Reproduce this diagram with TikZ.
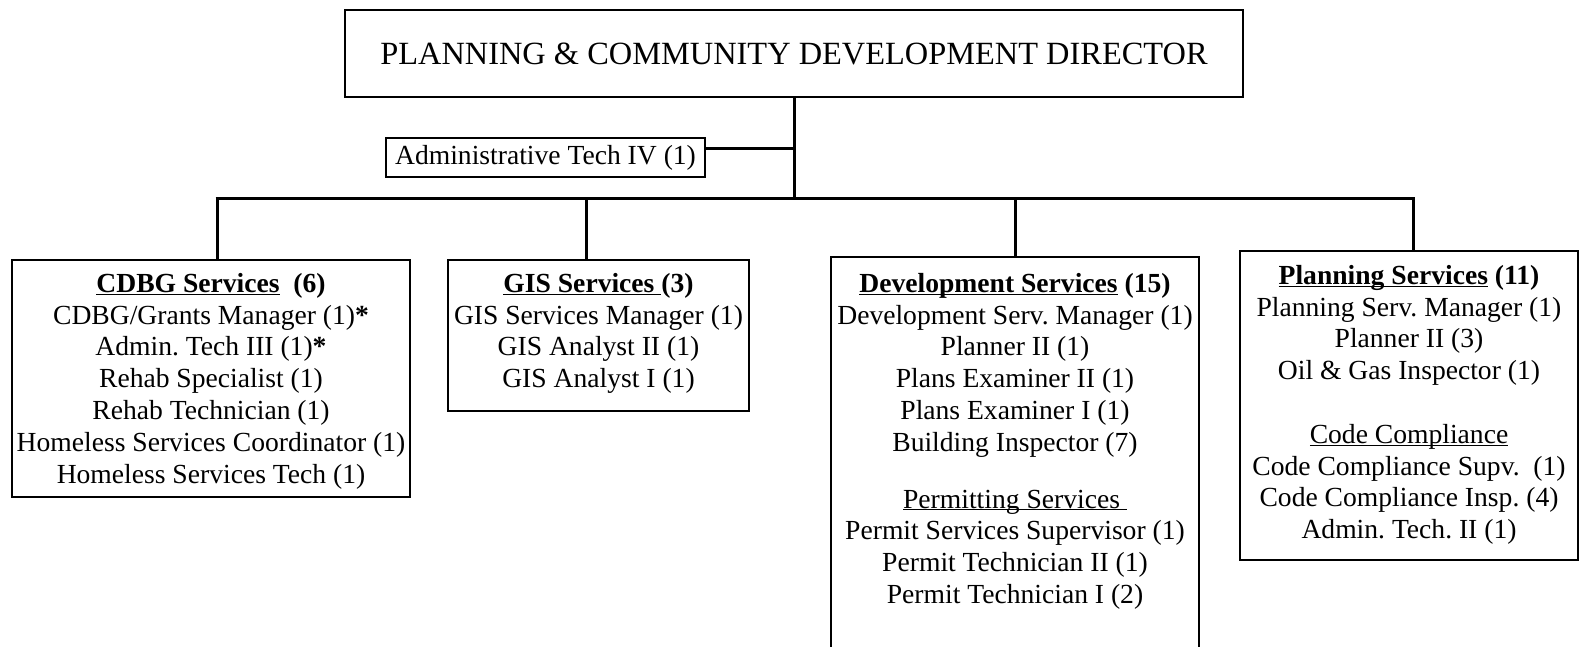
\documentclass[tikz,border=0pt]{standalone}
\usepackage{fontspec}
\setmainfont{Liberation Serif}
\frenchspacing
\newcommand\myul[1]{\underline{\smash{#1}}}
\begin{document}
\begin{tikzpicture}[x=1pt,y=-1pt,
  box/.style={draw, line width=2pt, inner sep=0pt, outer sep=0pt},
  conn/.style={line width=3pt},
  txt/.style={align=center, inner sep=0pt, anchor=north, font=\fontsize{27.6}{31.8}\selectfont},
]
\useasboundingbox (0,0) rectangle (1580,647);
\clip (0,0) rectangle (1580,647);
% director
\node[box, line width=2.5pt, minimum width=898pt, minimum height=87pt,
      font=\fontsize{32.4}{38}\selectfont] (dir) at (794,53.5)
      {PLANNING \& COMMUNITY DEVELOPMENT DIRECTOR};
% admin
\node[box, minimum width=319pt, minimum height=39pt,
      font=\fontsize{27.6}{31.8}\selectfont] (adm) at (545.5,157.5)
      {Administrative Tech IV (1)};
% department boxes
\node[box, minimum width=398pt, minimum height=237pt] (cdbgbox) at (211,378.5) {};
\node[box, minimum width=301pt, minimum height=151pt] (gisbox) at (598.5,335.5) {};
\node[box, minimum width=368pt, minimum height=450pt] (devbox) at (1015,482) {};
\node[box, minimum width=338pt, minimum height=309pt] (plnbox) at (1409,405.5) {};
% texts
\node[txt] (cdbg) at (211,273) {\textbf{\myul{CDBG Services}\ \ (6)}\\
  CDBG/Grants Manager (1)\textbf{*}\\
  Admin. Tech III (1)\textbf{*}\\
  Rehab Specialist (1)\\
  Rehab Technician (1)\\
  Homeless Services Coordinator (1)\\
  Homeless Services Tech (1)};
\node[txt] (gis) at (598.5,273) {\textbf{\myul{GIS Services }(3)}\\
  GIS Services Manager (1)\\
  GIS Analyst II (1)\\
  GIS Analyst I (1)};
\node[txt] (dev) at (1015,273) {\textbf{\myul{Development Services} (15)}\\
  Development Serv. Manager (1)\\
  Planner II (1)\\
  Plans Examiner II (1)\\
  Plans Examiner I (1)\\
  Building Inspector (7)\\[25pt]
  \myul{Permitting Services }\\
  Permit Services Supervisor (1)\\
  Permit Technician II (1)\\
  Permit Technician I (2)};
\node[txt] (pln) at (1409,265) {\textbf{\myul{Planning Services} (11)}\\
  Planning Serv. Manager (1)\\
  Planner II (3)\\
  Oil \& Gas Inspector (1)\\[31.8pt]
  \myul{Code Compliance}\\
  Code Compliance Supv.\ \ (1)\\
  Code Compliance Insp. (4)\\
  Admin. Tech. II (1)};
% connectors
\coordinate (j) at (794,199);
\coordinate (j1) at (217,199);
\coordinate (j2) at (586,199);
\coordinate (j3) at (1015,199);
\coordinate (j4) at (1413,199);
\draw[conn] (dir.south) -- (j);
\draw[conn] ([yshift=9pt]adm.east) -- ([yshift=9pt]adm.east -| dir.south);
\draw[conn] ([xshift=-1.5pt]j1) -- ([xshift=1.5pt]j4);
\draw[conn] (j1) -- (j1 |- cdbgbox.north);
\draw[conn] (j2) -- (j2 |- gisbox.north);
\draw[conn] (j3) -- (j3 |- devbox.north);
\draw[conn] (j4) -- (j4 |- plnbox.north);
\end{tikzpicture}
\end{document}
